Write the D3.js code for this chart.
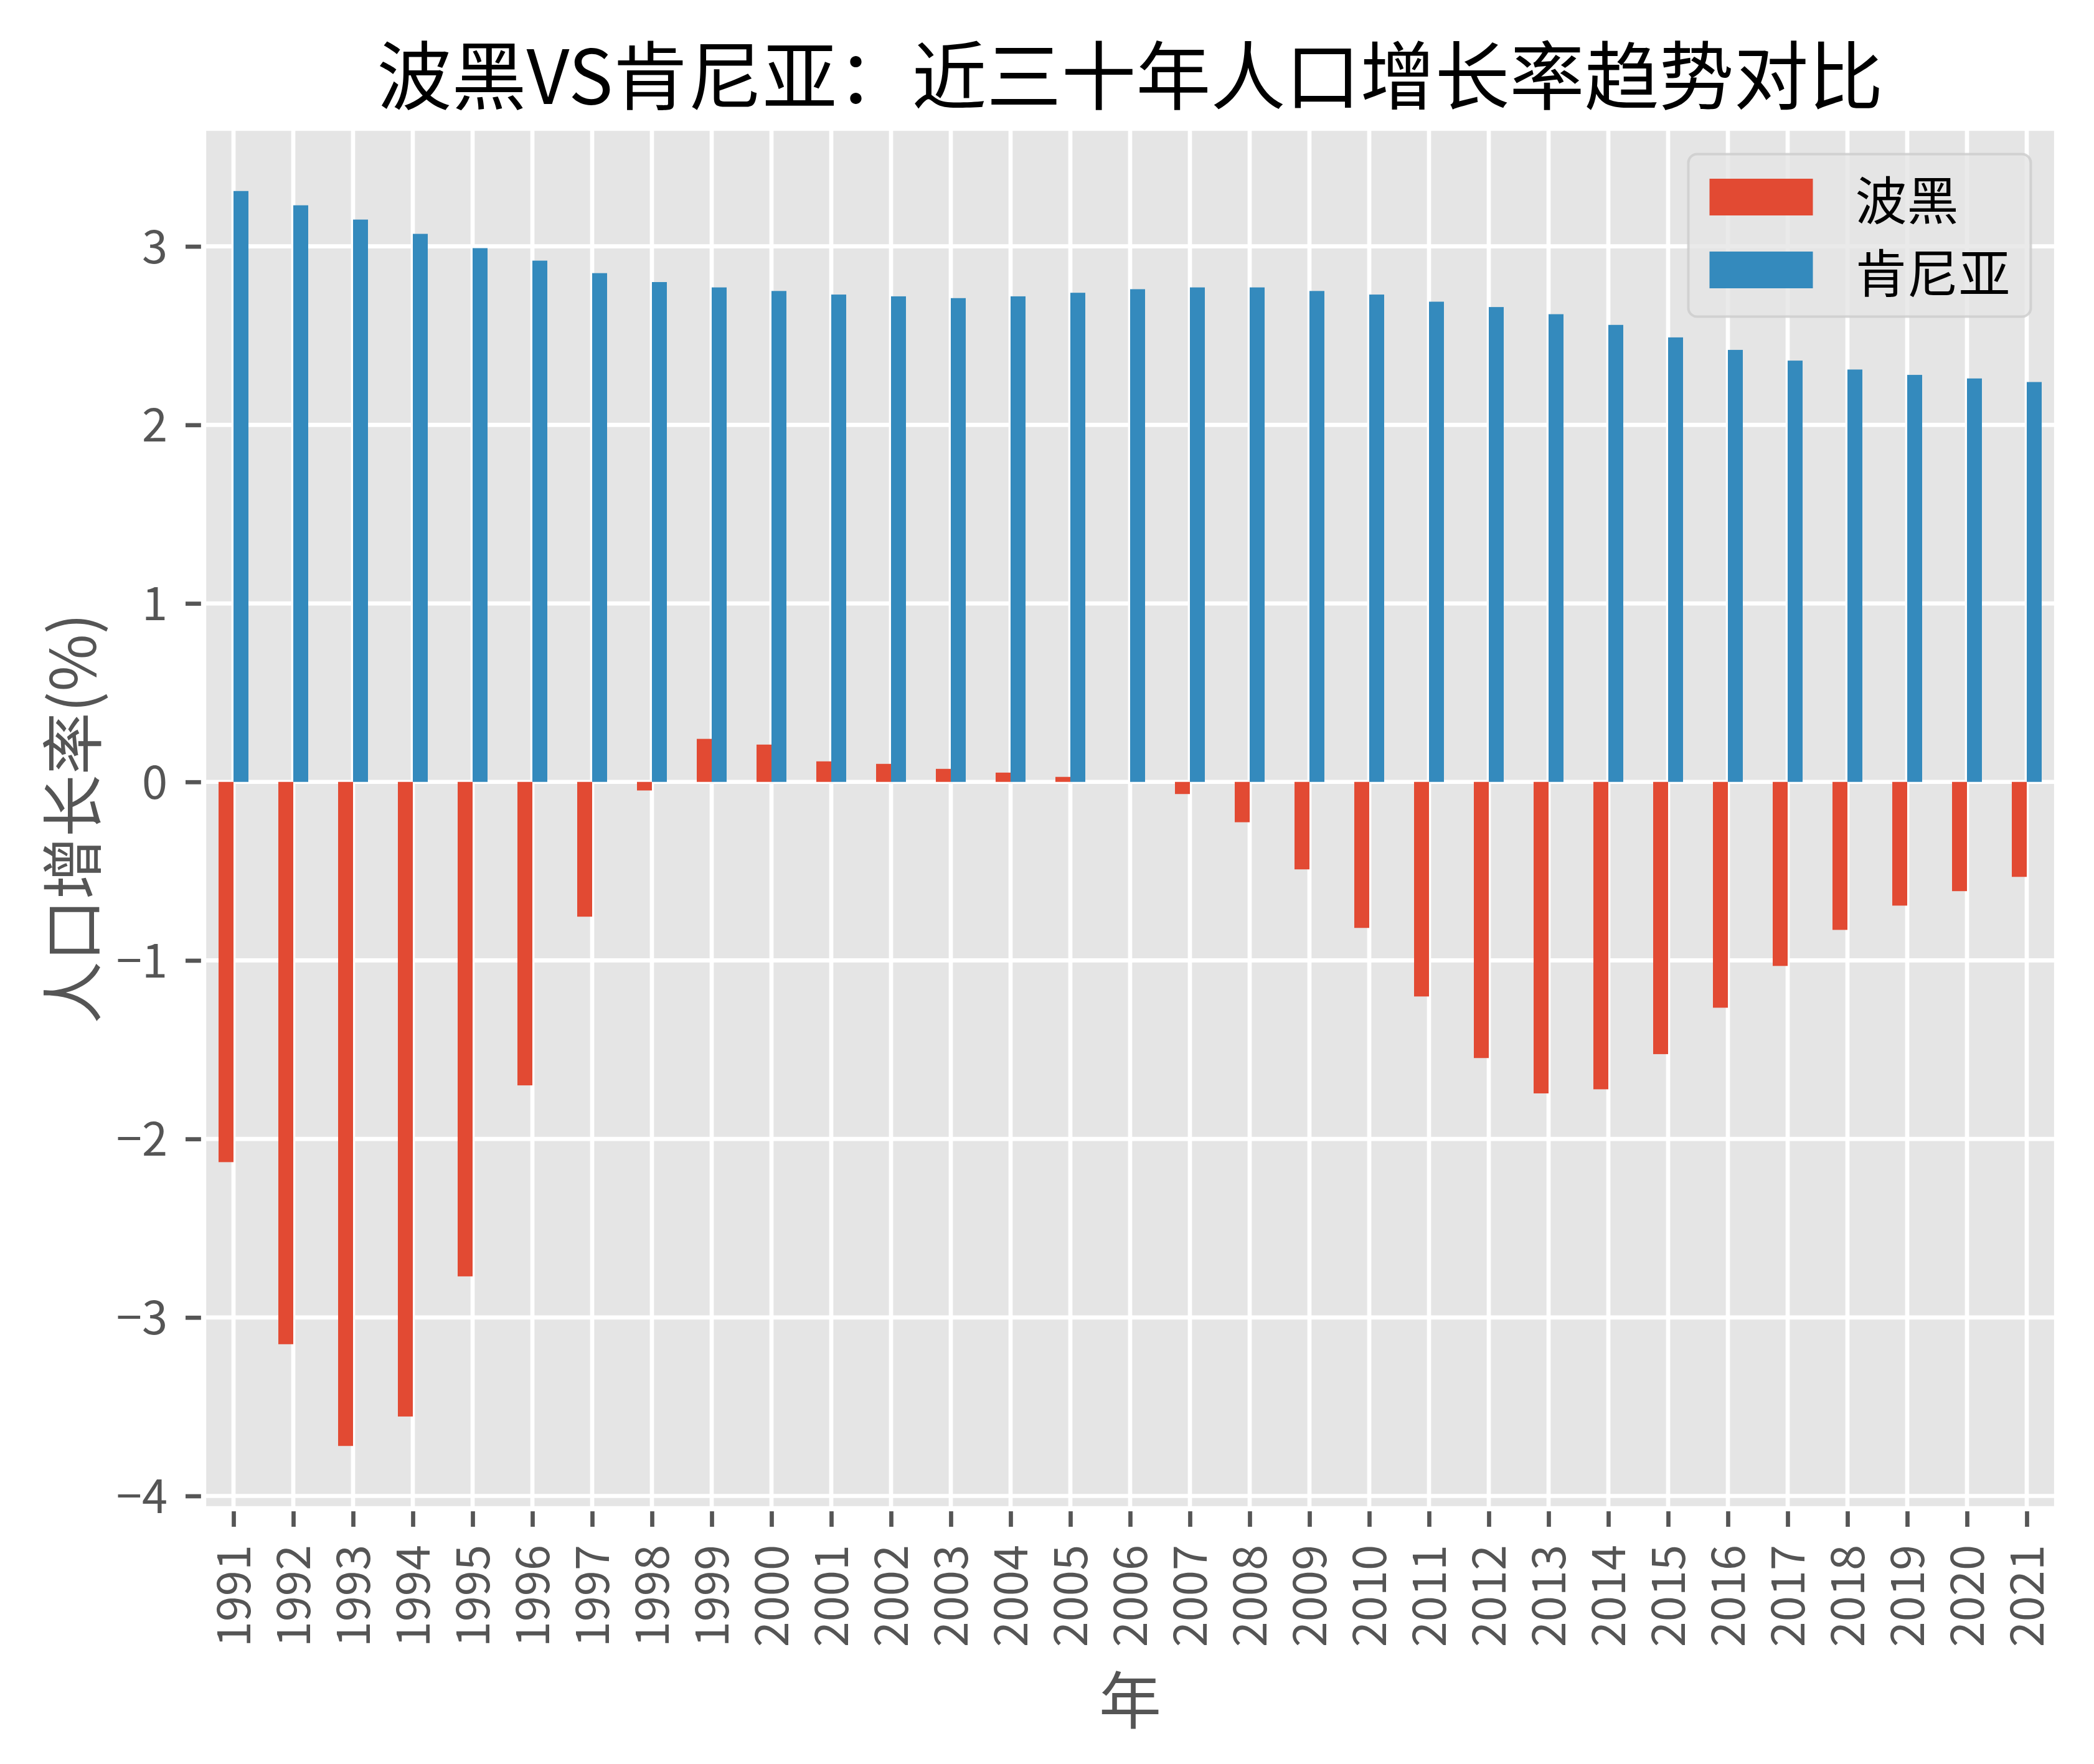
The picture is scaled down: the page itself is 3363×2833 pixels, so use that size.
<!DOCTYPE html>
<html>
<head>
<meta charset="utf-8">
<script src="https://cdn.jsdelivr.net/npm/d3@7"></script>
<style>
  body { margin: 0; background: #fff; }
  svg { display: block; }
</style>
</head>
<body>
<svg id="chart"></svg>
<script>
// data
var years = ["1991", "1992", "1993", "1994", "1995", "1996", "1997", "1998", "1999", "2000",
  "2001", "2002", "2003", "2004", "2005", "2006", "2007", "2008", "2009", "2010",
  "2011", "2012", "2013", "2014", "2015", "2016", "2017", "2018", "2019", "2020", "2021"];
var seriesNames = ["波黑", "肯尼亚"];
var bihGrowth = [-2.13, -3.15, -3.72, -3.555, -2.77, -1.70, -0.755, -0.048, 0.241, 0.209,
  0.115, 0.101, 0.073, 0.052, 0.028, 0.0, -0.068, -0.226, -0.490, -0.818,
  -1.202, -1.547, -1.745, -1.722, -1.525, -1.265, -1.031, -0.829, -0.693, -0.612, -0.532];
var kenyaGrowth = [3.31, 3.23, 3.15, 3.07, 2.99, 2.92, 2.85, 2.80, 2.77, 2.75,
  2.73, 2.72, 2.71, 2.72, 2.74, 2.76, 2.77, 2.77, 2.75, 2.73,
  2.69, 2.66, 2.62, 2.56, 2.49, 2.42, 2.36, 2.31, 2.28, 2.26, 2.24];

var titleText = "波黑VS肯尼亚：近三十年人口增长率趋势对比";
var xLabel = "年";
var yLabel = "人口增长率(%)";

var width = 3363;
var height = 2833;
var plot = { left: 327, right: 3303, top: 206, bottom: 2423 };
var colors = ["#E24A33", "#348ABD"];
var font = "'Noto Sans CJK SC', 'Noto Sans', sans-serif";
var tickLen = 29, tickPad = 29;
var barWidth = 0.25;

var svg = d3.select("#chart").attr("width", width).attr("height", height);

svg.append("rect").attr("width", width).attr("height", height).attr("fill", "#fff");

var xScale = d3.scaleLinear()
  .domain([-0.5, years.length - 0.5])
  .range([plot.left, plot.right]);

var allValues = bihGrowth.concat(kenyaGrowth);
var ext = d3.extent(allValues);
var margin = (ext[1] - ext[0]) * 0.05;
var yScale = d3.scaleLinear()
  .domain([ext[0] - margin, ext[1] + margin])
  .range([plot.bottom, plot.top]);

// axes background
svg.append("rect")
  .attr("x", plot.left).attr("y", plot.top)
  .attr("width", plot.right - plot.left).attr("height", plot.bottom - plot.top)
  .attr("fill", "#E5E5E5");

// grid
var grid = svg.append("g").attr("stroke", "#fff").attr("stroke-width", 6.7);
grid.selectAll(".vgrid").data(d3.range(years.length)).enter()
  .append("line")
  .attr("x1", d => xScale(d)).attr("x2", d => xScale(d))
  .attr("y1", plot.top).attr("y2", plot.bottom);
grid.selectAll(".hgrid").data(yScale.ticks(8)).enter()
  .append("line")
  .attr("x1", plot.left).attr("x2", plot.right)
  .attr("y1", d => yScale(d)).attr("y2", d => yScale(d));

// axes (ticks + labels)
var xAxis = d3.axisBottom(xScale)
  .tickValues(d3.range(years.length))
  .tickFormat(i => years[i])
  .tickSize(tickLen).tickPadding(tickPad);
var yAxis = d3.axisLeft(yScale)
  .ticks(8)
  .tickSize(tickLen).tickPadding(tickPad);

var gx = svg.append("g")
  .attr("transform", "translate(0," + plot.bottom + ")")
  .call(xAxis);
var gy = svg.append("g")
  .attr("transform", "translate(" + plot.left + ",0)")
  .call(yAxis);

[gx, gy].forEach(function (g) {
  g.select(".domain").remove();
  g.selectAll(".tick line").attr("stroke", "#555555").attr("stroke-width", 6.7);
  g.selectAll(".tick text")
    .attr("fill", "#555555")
    .style("font-family", font)
    .style("font-size", "74px");
});

gx.selectAll(".tick text")
  .attr("transform", "rotate(-90)")
  .attr("x", -(tickLen + tickPad))
  .attr("y", 0)
  .attr("dy", "0.36em")
  .attr("text-anchor", "end");
gy.selectAll(".tick text").attr("dy", "0.36em");

// bars
var series = [bihGrowth, kenyaGrowth];
series.forEach(function (values, s) {
  svg.append("g").selectAll("rect")
    .data(values).enter()
    .append("rect")
    .attr("x", (d, i) => xScale(i - barWidth + s * barWidth))
    .attr("width", (d, i) => xScale(i + barWidth) - xScale(i))
    .attr("y", d => yScale(Math.max(0, d)))
    .attr("height", d => Math.abs(yScale(d) - yScale(0)))
    .attr("fill", colors[s]);
});

// white spines on top
svg.append("rect")
  .attr("x", plot.left).attr("y", plot.top)
  .attr("width", plot.right - plot.left).attr("height", plot.bottom - plot.top)
  .attr("fill", "none").attr("stroke", "#fff").attr("stroke-width", 8.3);

// legend
var legFont = 83;
var leg = { right: plot.right - 0.5 * legFont, top: plot.top + 0.5 * legFont, w: 550, h: 261 };
var legend = svg.append("g")
  .attr("transform", "translate(" + (leg.right - leg.w) + "," + leg.top + ")");
legend.append("rect")
  .attr("width", leg.w).attr("height", leg.h)
  .attr("rx", 14).attr("ry", 14)
  .attr("fill", "#E5E5E5").attr("fill-opacity", 0.8)
  .attr("stroke", "#CCCCCC").attr("stroke-opacity", 0.8).attr("stroke-width", 4);
seriesNames.forEach(function (name, s) {
  var cy = 69 + s * 117;
  legend.append("rect")
    .attr("x", 34).attr("y", cy - 29.5)
    .attr("width", 166).attr("height", 59)
    .attr("fill", colors[s]);
  legend.append("text")
    .attr("x", 268).attr("y", cy)
    .attr("dominant-baseline", "central")
    .attr("fill", "#000")
    .style("font-family", font)
    .style("font-size", legFont + "px")
    .text(name);
});

// title and axis labels
var midX = (plot.left + plot.right) / 2;
var midY = (plot.top + plot.bottom) / 2;
svg.append("text")
  .attr("x", midX).attr("y", 115)
  .attr("text-anchor", "middle").attr("dominant-baseline", "central")
  .attr("fill", "#000")
  .style("font-family", font).style("font-size", "120px")
  .text(titleText);
svg.append("text")
  .attr("x", midX).attr("y", 2724)
  .attr("text-anchor", "middle").attr("dominant-baseline", "central")
  .attr("fill", "#555555")
  .style("font-family", font).style("font-size", "100px")
  .text(xLabel);
svg.append("text")
  .attr("transform", "translate(110," + midY + ") rotate(-90)")
  .attr("text-anchor", "middle").attr("dominant-baseline", "central")
  .attr("fill", "#555555")
  .style("font-family", font).style("font-size", "100px")
  .text(yLabel);
</script>
</body>
</html>
